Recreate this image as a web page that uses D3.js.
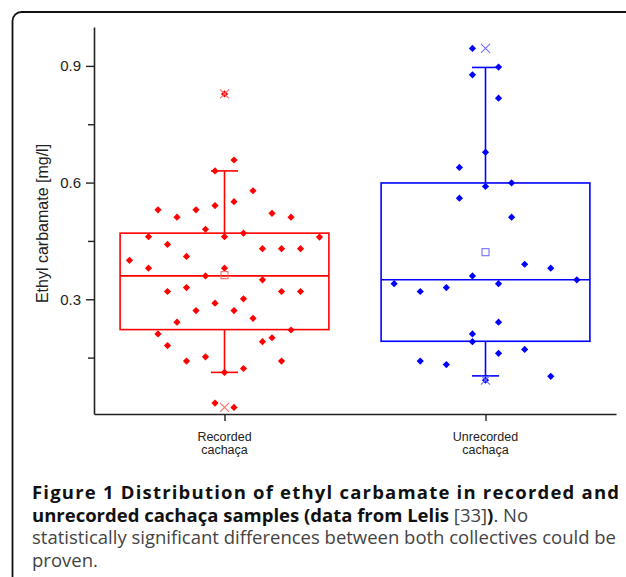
<!DOCTYPE html>
<html>
<head>
<meta charset="utf-8">
<script src="https://cdn.jsdelivr.net/npm/d3@7"></script>
<style>
  body { margin: 0; background: #fff; }
  svg { display: block; }
</style>
</head>
<body>
<svg id="chart" width="626" height="577"></svg>
<script>
// group names and positions on the x axis
const groups = ["Recorded\ncachaça", "Unrecorded\ncachaça"];
const groupColors = ["#ff0000", "#0000ff"];
const markColors = ["#ff6a6a", "#7070ff"];

// box statistics: [q1, median, q3, whiskerLow, whiskerHigh, mean, min, max]
const recordedStats = [0.222, 0.360, 0.470, 0.112, 0.630, 0.362, 0.022, 0.828];
const unrecordedStats = [0.192, 0.350, 0.599, 0.103, 0.896, 0.421, 0.092, 0.945];

// samples: [jitter step, value]
const recordedPoints = [
  [0, 0.828], [1, 0.658], [-1, 0.630], [3, 0.579], [-7, 0.530], [-5, 0.511],
  [-3, 0.530], [-1, 0.541], [1, 0.551], [5, 0.521], [7, 0.511], [-2, 0.480],
  [0, 0.461], [2, 0.470], [-8, 0.461], [-6, 0.441], [4, 0.430], [6, 0.430],
  [8, 0.430], [10, 0.460], [-10, 0.400], [-4, 0.410], [-8, 0.380], [0, 0.380],
  [-2, 0.360], [4, 0.350], [-6, 0.320], [-4, 0.330], [6, 0.320], [8, 0.320],
  [2, 0.301], [-1, 0.290], [-3, 0.271], [1, 0.271], [-5, 0.241], [3, 0.251],
  [7, 0.221], [-7, 0.211], [-6, 0.181], [4, 0.191], [5, 0.201], [-4, 0.141],
  [-2, 0.152], [6, 0.141], [0, 0.112], [2, 0.122], [-1, 0.033], [1, 0.022]
];
const unrecordedPoints = [
  [-1, 0.945], [1, 0.897], [-1, 0.877], [1, 0.817], [0, 0.678], [-2, 0.639],
  [0, 0.590], [2, 0.599], [-2, 0.560], [2, 0.511], [3, 0.390], [5, 0.380],
  [-1, 0.360], [-3, 0.330], [1, 0.340], [7, 0.350], [-7, 0.340], [-5, 0.320],
  [1, 0.241], [-1, 0.211], [-1, 0.191], [-3, 0.132], [1, 0.161], [3, 0.171],
  [5, 0.102], [0, 0.092], [-5, 0.141]
];
const jitterSteps = [0.0364, 0.05];

const yTicks = [0.15, 0.3, 0.45, 0.6, 0.75, 0.9];
const yLabelled = [0.3, 0.6, 0.9];
const yTitle = "Ethyl carbamate [mg/l]";

const stats = [recordedStats, unrecordedStats];
const points = [recordedPoints, unrecordedPoints];

const svg = d3.select("#chart");

// frame around the figure
svg.append("rect")
  .attr("x", 12.5).attr("y", 12).attr("width", 640).attr("height", 600)
  .attr("rx", 9).attr("fill", "none").attr("stroke", "#111").attr("stroke-width", 1.8);

const x = d3.scaleLinear().domain([0.5, 2.5]).range([94, 616]);
const y = d3.scaleLinear().domain([0.005, 1.0]).range([414, 27]);

// y axis
const yAxis = svg.append("g")
  .attr("transform", "translate(94,0)")
  .call(d3.axisLeft(y).tickValues(yTicks).tickSizeOuter(0).tickSizeInner(8).tickPadding(5)
    .tickFormat(d => yLabelled.includes(d) ? d3.format(".1f")(d) : ""));
yAxis.selectAll(".tick line").attr("x2", d => yLabelled.includes(d) ? -8 : -6);
yAxis.select(".domain").attr("stroke", "#222").attr("stroke-width", 1.6);
yAxis.selectAll(".tick line").attr("stroke", "#222").attr("stroke-width", 1.4);
yAxis.selectAll("text").attr("font-family", "Liberation Sans, Arial, sans-serif")
  .attr("font-size", 15).attr("fill", "#222");

// x axis
const xAxis = svg.append("g")
  .attr("transform", "translate(0,414)")
  .call(d3.axisBottom(x).tickValues([1, 2]).tickSizeOuter(0).tickSizeInner(7).tickFormat(""));
xAxis.select(".domain").attr("stroke", "#222").attr("stroke-width", 1.6);
xAxis.selectAll(".tick line").attr("stroke", "#222").attr("stroke-width", 1.4);

groups.forEach((g, i) => {
  g.split("\n").forEach((line, j) => {
    svg.append("text")
      .attr("x", x(i + 1)).attr("y", 440.5 + j * 13.5)
      .attr("text-anchor", "middle")
      .attr("font-family", "Liberation Sans, Arial, sans-serif")
      .attr("font-size", 12.5).attr("fill", "#222")
      .text(line);
  });
});

svg.append("text")
  .attr("transform", `translate(48,${(y(0.005) + y(1.0)) / 2 + 3}) rotate(-90)`)
  .attr("text-anchor", "middle")
  .attr("font-family", "Liberation Sans, Arial, sans-serif")
  .attr("font-size", 16).attr("fill", "#222")
  .text(yTitle);

// boxes
const halfBox = 0.4, halfCap = 0.052;
stats.forEach((s, i) => {
  const c = i + 1;
  const [q1, med, q3, wlo, whi] = s;
  const g = svg.append("g").attr("stroke", groupColors[i]).attr("stroke-width", 1.6).attr("fill", "none");
  g.append("rect")
    .attr("x", x(c - halfBox)).attr("y", y(q3))
    .attr("width", x(c + halfBox) - x(c - halfBox)).attr("height", y(q1) - y(q3));
  g.append("line").attr("x1", x(c - halfBox)).attr("x2", x(c + halfBox)).attr("y1", y(med)).attr("y2", y(med));
  g.append("line").attr("x1", x(c)).attr("x2", x(c)).attr("y1", y(q3)).attr("y2", y(whi));
  g.append("line").attr("x1", x(c)).attr("x2", x(c)).attr("y1", y(q1)).attr("y2", y(wlo));
  g.append("line").attr("x1", x(c - halfCap)).attr("x2", x(c + halfCap)).attr("y1", y(whi)).attr("y2", y(whi));
  g.append("line").attr("x1", x(c - halfCap)).attr("x2", x(c + halfCap)).attr("y1", y(wlo)).attr("y2", y(wlo));
});

// sample points
const diamond = d3.symbol().type(d3.symbolSquare).size(26);
points.forEach((pts, i) => {
  svg.append("g").selectAll("path")
    .data(pts)
    .join("path")
    .attr("d", diamond)
    .attr("transform", d => `translate(${x(i + 1 + d[0] * jitterSteps[i])},${y(d[1])}) rotate(45)`)
    .attr("fill", groupColors[i]);
});

// mean squares and min/max crosses
stats.forEach((s, i) => {
  const c = i + 1;
  const mean = s[5];
  svg.append("rect")
    .attr("x", x(c) - 3.5).attr("y", y(mean) - 3.5).attr("width", 7).attr("height", 7)
    .attr("fill", "none").attr("stroke", markColors[i]).attr("stroke-width", 1.1);
  [s[6], s[7]].forEach(v => {
    const r = 4.5;
    svg.append("path")
      .attr("d", `M${x(c) - r},${y(v) - r}L${x(c) + r},${y(v) + r}M${x(c) - r},${y(v) + r}L${x(c) + r},${y(v) - r}`)
      .attr("stroke", markColors[i]).attr("stroke-width", 1.1).attr("fill", "none");
  });
});

// caption
const cap = svg.append("g").attr("font-family", "Open Sans, sans-serif").attr("font-size", 18.5).attr("fill", "#111");
cap.append("text").attr("x", 32).attr("y", 499)
  .attr("font-weight", "bold").attr("textLength", 587).attr("lengthAdjust", "spacing")
  .text("Figure 1 Distribution of ethyl carbamate in recorded and");
const l2 = cap.append("text").attr("x", 32).attr("y", 522);
l2.append("tspan").attr("font-weight", "bold").text("unrecorded cachaça samples (data from Lelis");
l2.append("tspan").attr("fill", "#444").text(" [33]");
l2.append("tspan").attr("font-weight", "bold").text(")");
l2.append("tspan").attr("fill", "#444").text(". No");
cap.append("text").attr("x", 32).attr("y", 544).attr("fill", "#444")
  .attr("textLength", 584).attr("lengthAdjust", "spacing")
  .text("statistically significant differences between both collectives could be");
cap.append("text").attr("x", 32).attr("y", 567).attr("fill", "#444").text("proven.");
</script>
</body>
</html>
